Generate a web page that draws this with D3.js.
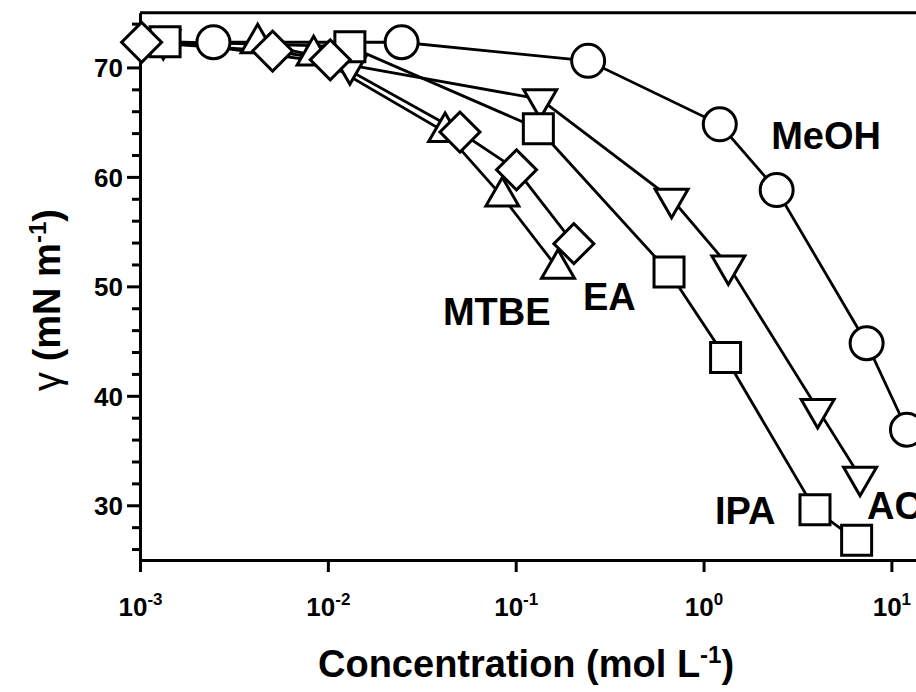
<!DOCTYPE html>
<html>
<head>
<meta charset="utf-8">
<title>Surface tension vs concentration</title>
<script src="https://d3js.org/d3.v7.min.js"></script>
<style>
  body { margin: 0; background: #fff; }
  text { font-family: Arial, "Liberation Sans", sans-serif; font-weight: bold; fill: #000; }
</style>
</head>
<body>
<div id="chart"></div>
<script>
// concentration in mol/L, surface tension in mN/m
var meohConc  = [0.00246, 0.0247, 0.243, 1.22, 2.45, 7.38, 12.1];
var meohGamma = [72.3, 72.3, 70.6, 64.8, 58.8, 44.8, 36.9];

var aceConc  = [0.00133, 0.0131, 0.135, 0.676, 1.355, 4.05, 6.81];
var aceGamma = [72.5, 70.2, 67.1, 58.0, 51.9, 38.8, 32.6];

var ipaConc  = [0.00136, 0.0131, 0.132, 0.655, 1.31, 3.92, 6.53];
var ipaGamma = [72.35, 71.9, 64.4, 51.3, 43.5, 29.6, 26.8];

var eaConc  = [0.00102, 0.00508, 0.0103, 0.0505, 0.101, 0.204];
var eaGamma = [72.3, 71.5, 70.7, 64.1, 60.65, 53.9];

var mtbeConc  = [0.00423, 0.0084, 0.0421, 0.0849, 0.168];
var mtbeGamma = [72.2, 71.1, 64.1, 58.2, 51.6];

var seriesNames = ["ACE", "MTBE", "IPA", "EA", "MeOH"];
var xTickExps = [-3, -2, -1, 0, 1];
var yTickLabels = [30, 40, 50, 60, 70];

var width = 916, height = 692;
var plotLeft = 140, plotTop = 12.7, plotBottom = 560;
var decade = 187.85;

var svg = d3.select("#chart").append("svg")
    .attr("width", width)
    .attr("height", height);

var x = d3.scaleLog().domain([1e-3, 1e2]).range([plotLeft, plotLeft + 5 * decade]);
var y = d3.scaleLinear().domain([25, 75]).range([plotBottom, plotTop]);

function zip(cs, gs) {
    return cs.map(function (c, i) { return { c: c, g: gs[i] }; });
}

var series = {
    ACE:  { pts: zip(aceConc, aceGamma),   shape: d3.symbolTriangle, size: 470, rot: 180 },
    MTBE: { pts: zip(mtbeConc, mtbeGamma), shape: d3.symbolTriangle, size: 470, rot: 0 },
    IPA:  { pts: zip(ipaConc, ipaGamma),   shape: d3.symbolSquare,   size: 900, rot: 0 },
    EA:   { pts: zip(eaConc, eaGamma),     shape: d3.symbolSquare,   size: 800, rot: 45 },
    MeOH: { pts: zip(meohConc, meohGamma), shape: d3.symbolCircle,   size: 855, rot: 0 }
};

// axes
var yAxis = d3.axisLeft(y)
    .tickValues(d3.range(26, 75, 2))
    .tickSizeOuter(0)
    .tickFormat(function (d) { return yTickLabels.indexOf(d) >= 0 ? d : ""; });

var gy = svg.append("g")
    .attr("transform", "translate(" + plotLeft + ",0)")
    .call(yAxis);
gy.selectAll(".tick line")
    .attr("x2", function (d) { return d % 10 === 0 ? -13 : -8; })
    .attr("stroke-width", 3);
gy.selectAll(".tick text")
    .attr("x", -17)
    .attr("dy", "0.36em")
    .style("font-size", "26px");
gy.select(".domain").attr("stroke-width", 3);

var xAxis = d3.axisBottom(x)
    .tickValues(xTickExps.map(function (e) { return Math.pow(10, e); }))
    .tickSize(12)
    .tickSizeOuter(0)
    .tickFormat("");

var gx = svg.append("g")
    .attr("transform", "translate(0," + plotBottom + ")")
    .call(xAxis);
gx.selectAll(".tick line").attr("stroke-width", 3);
gx.select(".domain").attr("stroke-width", 3);

gx.selectAll(".tick").each(function (d) {
    var t = d3.select(this).append("text")
        .attr("y", 56)
        .attr("text-anchor", "middle")
        .style("font-size", "26px");
    t.append("tspan").text("10");
    t.append("tspan")
        .attr("dy", -11)
        .style("font-size", "17px")
        .text(Math.round(Math.log10(d)));
});

// top frame line
svg.append("line")
    .attr("x1", plotLeft).attr("x2", plotLeft + 5 * decade)
    .attr("y1", plotTop).attr("y2", plotTop)
    .attr("stroke", "#000").attr("stroke-width", 3);

// connecting lines
var line = d3.line()
    .x(function (d) { return x(d.c); })
    .y(function (d) { return y(d.g); });

seriesNames.forEach(function (name) {
    svg.append("path")
        .datum(series[name].pts)
        .attr("d", line)
        .attr("fill", "none")
        .attr("stroke", "#000")
        .attr("stroke-width", 2.8);
});

// markers
seriesNames.forEach(function (name) {
    var s = series[name];
    svg.append("g").selectAll("path")
        .data(s.pts)
        .enter()
        .append("path")
        .attr("d", d3.symbol().type(s.shape).size(s.size))
        .attr("transform", function (d) {
            return "translate(" + x(d.c) + "," + y(d.g) + ") rotate(" + s.rot + ")";
        })
        .attr("fill", "#fff")
        .attr("stroke", "#000")
        .attr("stroke-width", 3);
});

// series labels, anchored in data units
var labelAt = [
    { name: "MeOH", c: 2.29, g: 62.56 },
    { name: "ACE",  c: 7.41, g: 28.71 },
    { name: "IPA",  c: 1.15, g: 28.26 },
    { name: "EA",   c: 0.228, g: 47.87 },
    { name: "MTBE", c: 0.041, g: 46.5 }
];
svg.append("g").selectAll("text")
    .data(labelAt)
    .enter()
    .append("text")
    .attr("x", function (d) { return x(d.c); })
    .attr("y", function (d) { return y(d.g); })
    .style("font-size", "38px")
    .text(function (d) { return d.name; });

// axis titles
var xt = svg.append("text")
    .attr("x", 318)
    .attr("y", 677)
    .style("font-size", "38px");
xt.append("tspan").text("Concentration (mol L");
xt.append("tspan").attr("dy", -14).style("font-size", "24px").text("-1");
xt.append("tspan").attr("dy", 14).text(")");

var yt = svg.append("text")
    .attr("transform", "translate(60,300) rotate(-90)")
    .attr("text-anchor", "middle")
    .style("font-size", "38px");
yt.append("tspan").style("font-weight", "normal").text("γ");
yt.append("tspan").text(" (mN m");
yt.append("tspan").attr("dy", -14).style("font-size", "24px").text("-1");
yt.append("tspan").attr("dy", 14).text(")");
</script>
</body>
</html>
